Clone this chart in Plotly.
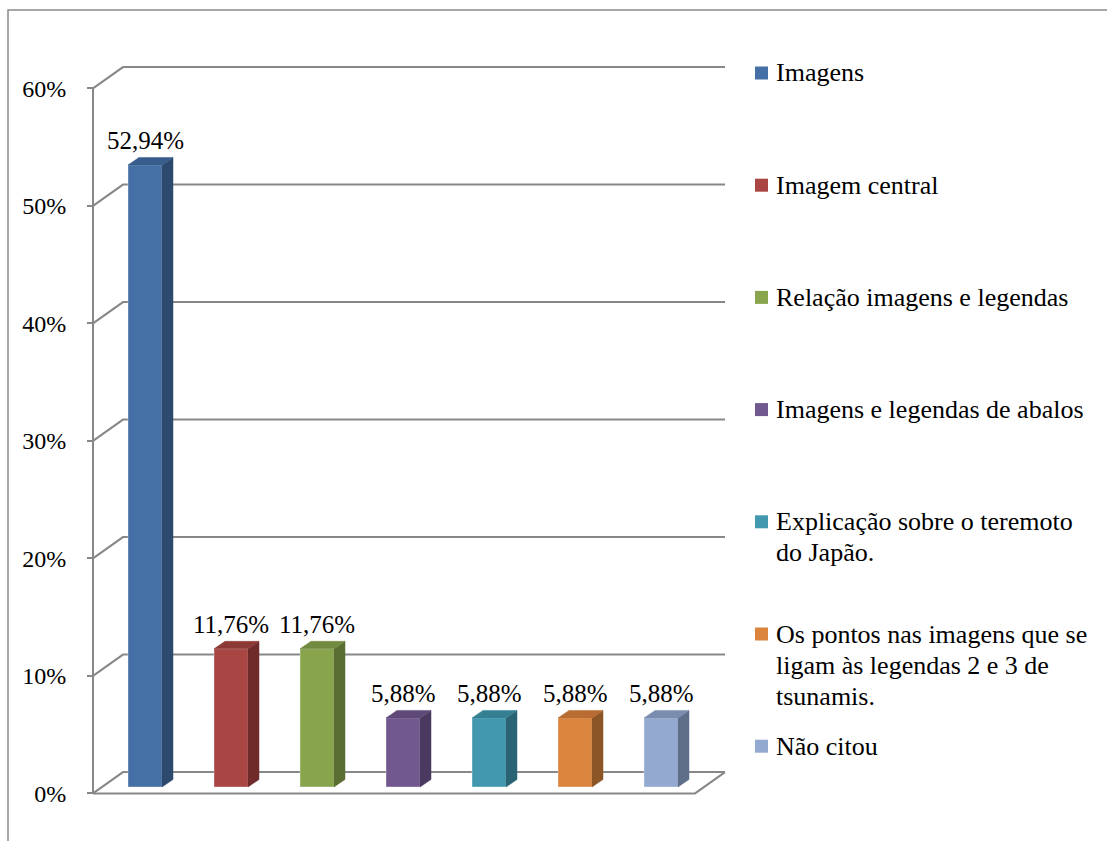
import plotly.graph_objects as go

# ---------------- data ----------------
categories = [
    "Imagens",
    "Imagem central",
    "Relação imagens e legendas",
    "Imagens e legendas de abalos",
    "Explicação sobre o teremoto do Japão.",
    "Os pontos nas imagens que se ligam às legendas 2 e 3 de tsunamis.",
    "Não citou",
]
legend_lines = [
    ["Imagens"],
    ["Imagem central"],
    ["Relação imagens e legendas"],
    ["Imagens e legendas de abalos"],
    ["Explicação sobre o teremoto", "do Japão."],
    ["Os pontos nas imagens que se", "ligam às legendas 2 e 3 de", "tsunamis."],
    ["Não citou"],
]
values = [52.94, 11.76, 11.76, 5.88, 5.88, 5.88, 5.88]
value_labels = ["52,94%", "11,76%", "11,76%", "5,88%", "5,88%", "5,88%", "5,88%"]
y_ticks = [0, 10, 20, 30, 40, 50, 60]
y_tick_labels = ["0%", "10%", "20%", "30%", "40%", "50%", "60%"]

front_colors = ["#4470A6", "#A94542", "#88A44D", "#71588F", "#4198AF", "#DB843D", "#93A9CF"]
top_colors = ["#385D8C", "#8C3936", "#718A3F", "#5E4978", "#357F93", "#B86C31", "#7B8DAE"]
side_colors = ["#2D4A6E", "#6E2B29", "#5A6D33", "#4A3A5F", "#2A6474", "#8C5526", "#5F6E89"]

# ---------------- geometry (layout/styling) ----------------
W, H = 1107, 841
PX_CAT, X0_PX = 86.0, 145.0       # pixels per category, pixel of category 0
PX_PCT, Y0_PX = 11.75, 787.0      # pixels per percent, pixel of 0% (bar plane)
xr = [-X0_PX / PX_CAT, (W - X0_PX) / PX_CAT]
yr = [(Y0_PX - H) / PX_PCT, Y0_PX / PX_PCT]

DX, DY = 30 / PX_CAT, 21.3 / PX_PCT      # full depth of the 3D box
F = 0.3                                   # bar plane position within depth
BDX, BDY = 11 / PX_CAT, 7.5 / PX_PCT      # bar depth
BW = 34 / PX_CAT                          # bar width
XMIN, XMAX = -0.5, len(values) - 0.5
GRID = "#878787"
FONT = "Liberation Serif"

fig = go.Figure()

# back wall grid lines + floor
gx, gy = [], []
for t in y_ticks:
    gx += [XMIN - F * DX, XMIN + (1 - F) * DX, XMAX + (1 - F) * DX, None]
    gy += [t - F * DY, t + (1 - F) * DY, t + (1 - F) * DY, None]
gx += [XMIN - F * DX, XMAX - F * DX, XMAX + (1 - F) * DX, None]
gy += [-F * DY, -F * DY, (1 - F) * DY, None]
fig.add_trace(go.Scatter(x=gx, y=gy, mode="lines", line=dict(color=GRID, width=2),
                         hoverinfo="skip", showlegend=False, zorder=-1))

# front faces of bars
xs = list(range(len(values)))
fig.add_trace(go.Bar(x=xs, y=values, width=BW, marker=dict(color=front_colors, line=dict(width=0.6, color="rgba(255,255,255,0.6)")),
                     showlegend=False, hoverinfo="skip", zorder=0))

# top and side faces
for i, v in enumerate(values):
    l, r = i - BW / 2, i + BW / 2
    fig.add_trace(go.Scatter(
        x=[r, r + BDX, r + BDX, r, r], y=[0, BDY, v + BDY, v, 0],
        fill="toself", fillcolor=side_colors[i], mode="lines", line=dict(width=0.5, color=side_colors[i]),
        hoverinfo="skip", showlegend=False, zorder=1))
    fig.add_trace(go.Scatter(
        x=[l, l + BDX, r + BDX, r, l], y=[v, v + BDY, v + BDY, v, v],
        fill="toself", fillcolor=top_colors[i], mode="lines", line=dict(width=0.5, color=top_colors[i]),
        hoverinfo="skip", showlegend=False, zorder=1))
    fig.add_annotation(x=i, y=v + BDY, text=value_labels[i], showarrow=False, yshift=17,
                       yanchor="middle", xanchor="center", font=dict(family=FONT, size=25, color="black"))

# front vertical axis line (on the front-plane axis)
fig.add_trace(go.Scatter(x=[XMIN - F * DX, XMIN - F * DX], y=[y_ticks[0], y_ticks[-1]], yaxis="y2",
                         mode="lines", line=dict(color=GRID, width=2), hoverinfo="skip", showlegend=False))

axis_px = X0_PX + PX_CAT * (XMIN - F * DX)
fig.update_layout(
    width=W, height=H, margin=dict(l=0, r=0, t=0, b=0),
    paper_bgcolor="white", plot_bgcolor="rgba(0,0,0,0)",
    font=dict(family=FONT, color="black"),
    xaxis=dict(range=xr, visible=False, domain=[0, 1], fixedrange=True),
    yaxis=dict(range=yr, visible=False, domain=[0, 1]),
    yaxis2=dict(range=[yr[0] + F * DY, yr[1] + F * DY], overlaying="y", anchor="free",
                position=axis_px / W, side="left", tickvals=y_ticks, ticktext=y_tick_labels,
                ticks="outside", ticklen=6, tickcolor=GRID, tickwidth=2, showgrid=False,
                zeroline=False, showline=False, ticklabelstandoff=16,
                tickfont=dict(family=FONT, size=24, color="black")),
    showlegend=False,
)

# outer chart border
fig.add_shape(type="rect", xref="paper", yref="paper", x0=8 / W, x1=1.05, y0=-0.05, y1=1 - 10 / H,
              line=dict(color="#8A8A8A", width=1.5), fillcolor="rgba(0,0,0,0)")

# legend (drawn manually to match spacing)
for k, lines in enumerate(legend_lines):
    y0 = 73 + 112.2 * k
    fig.add_shape(type="rect", xref="paper", yref="paper", x0=755 / W, x1=768 / W,
                  y0=1 - (y0 + 6.5) / H, y1=1 - (y0 - 6.5) / H,
                  fillcolor=front_colors[k], line=dict(width=0))
    for j, txt in enumerate(lines):
        fig.add_annotation(xref="paper", yref="paper", x=774 / W, y=1 - (y0 + 31 * j) / H, text=txt,
                           showarrow=False, xanchor="left", yanchor="middle",
                           font=dict(family=FONT, size=26, color="black"))

fig.write_html("out.html")
